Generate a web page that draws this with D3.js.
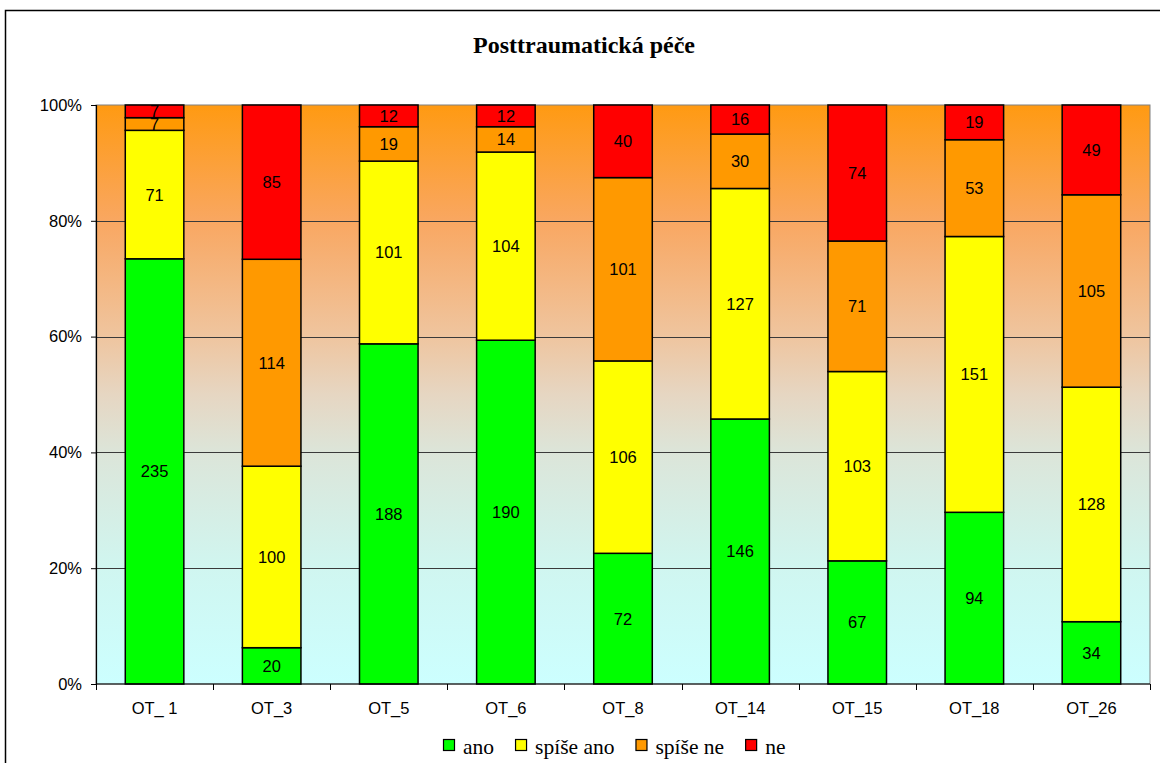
<!DOCTYPE html>
<html>
<head>
<meta charset="utf-8">
<script src="https://cdn.jsdelivr.net/npm/d3@7"></script>
<style>
  html, body { margin: 0; padding: 0; background: #fff; }
  svg { display: block; }
</style>
</head>
<body>
<svg id="chart" width="1160" height="763"></svg>
<script>
// Survey answers per department
const categories = ["OT_ 1", "OT_3", "OT_5", "OT_6", "OT_8", "OT_14", "OT_15", "OT_18", "OT_26"];
const seriesNames = ["ano", "spíše ano", "spíše ne", "ne"];
const ano      = [235, 20, 188, 190, 72, 146, 67, 94, 34];
const spiseAno = [71, 100, 101, 104, 106, 127, 103, 151, 128];
const spiseNe  = [7, 114, 19, 14, 101, 30, 71, 53, 105];
const ne       = [7, 85, 12, 12, 40, 16, 74, 19, 49];
const seriesColors = ["#00FF00", "#FFFF00", "#FF9900", "#FF0000"];
const yTicks = [0, 0.2, 0.4, 0.6, 0.8, 1];
const title = "Posttraumatická péče";

const serif = "'Liberation Serif', 'Times New Roman', serif";
const sans = "'Liberation Sans', Arial, sans-serif";

const svg = d3.select("#chart");
const plot = { left: 96, right: 1150, top: 105, bottom: 684 };

// Outer chart frame
svg.append("rect")
  .attr("x", 5.5).attr("y", 10.5)
  .attr("width", 1200).attr("height", 800)
  .attr("fill", "#fff").attr("stroke", "#000").attr("stroke-width", 1.5);

// Title
svg.append("text")
  .attr("x", 584).attr("y", 53)
  .attr("text-anchor", "middle")
  .attr("font-family", serif)
  .attr("font-weight", "bold")
  .attr("font-size", 24)
  .text(title);

// Plot background gradient (orange at top fading into pale cyan)
const defs = svg.append("defs");
const grad = defs.append("linearGradient")
  .attr("id", "bg").attr("x1", 0).attr("y1", 0).attr("x2", 0).attr("y2", 1);
[
  [0, "#FF9A12"], [0.2, "#F9A761"], [0.4, "#EFC59F"],
  [0.5, "#E6D6C2"], [0.6, "#DCE5D9"], [0.8, "#D0F6F0"], [1, "#CCFFFF"]
].forEach(([o, c]) => grad.append("stop").attr("offset", o).attr("stop-color", c));

svg.append("rect")
  .attr("x", plot.left).attr("y", plot.top)
  .attr("width", plot.right - plot.left).attr("height", plot.bottom - plot.top)
  .attr("fill", "url(#bg)").attr("stroke", "#808080").attr("stroke-width", 1);

const x = d3.scaleBand()
  .domain(categories)
  .range([plot.left, plot.right])
  .paddingInner(0.5)
  .paddingOuter(0.25);

const y = d3.scaleLinear().domain([0, 1]).range([plot.bottom, plot.top]);

// Gridlines
svg.append("g")
  .selectAll("line")
  .data(yTicks.filter(t => t > 0 && t < 1))
  .join("line")
  .attr("x1", plot.left).attr("x2", plot.right)
  .attr("y1", d => Math.round(y(d)) + 0.5).attr("y2", d => Math.round(y(d)) + 0.5)
  .attr("stroke", "#3a3a3a").attr("stroke-width", 1);

// Stacked, normalised bars
const rows = categories.map((c, i) => ({
  cat: c,
  "ano": ano[i], "spíše ano": spiseAno[i], "spíše ne": spiseNe[i], "ne": ne[i]
}));
const stack = d3.stack().keys(seriesNames).offset(d3.stackOffsetExpand);
const layers = stack(rows);

const layerG = svg.append("g")
  .selectAll("g")
  .data(layers)
  .join("g")
  .attr("fill", (d, i) => seriesColors[i]);

layerG.selectAll("rect")
  .data(d => d)
  .join("rect")
  .attr("x", d => x(d.data.cat))
  .attr("width", x.bandwidth())
  .attr("y", d => y(d[1]))
  .attr("height", d => y(d[0]) - y(d[1]))
  .attr("stroke", "#000").attr("stroke-width", 1.5);

// Value labels
const labelG = svg.append("g")
  .attr("font-family", sans)
  .attr("font-size", 16.5)
  .attr("text-anchor", "middle");
layers.forEach(layer => {
  labelG.selectAll(null)
    .data(layer)
    .join("text")
    .attr("x", d => x(d.data.cat) + x.bandwidth() / 2)
    .attr("y", d => (y(d[0]) + y(d[1])) / 2)
    .attr("dy", "0.36em")
    .text(d => d.data[layer.key]);
});

// Y axis
const yAxis = d3.axisLeft(y)
  .tickValues(yTicks)
  .tickFormat(d3.format(".0%"))
  .tickSize(5)
  .tickPadding(9);
const yg = svg.append("g")
  .attr("transform", `translate(${plot.left},0)`)
  .call(yAxis);
yg.select(".domain").attr("stroke", "#000").attr("stroke-width", 1.2);
yg.selectAll(".tick line").attr("stroke", "#000");
yg.selectAll(".tick text")
  .attr("font-family", sans)
  .attr("font-size", 16.5).attr("fill", "#000");

// X axis: baseline, boundary ticks, category labels
const xBound = d3.scaleLinear().domain([0, categories.length]).range([plot.left, plot.right]);
const xg = svg.append("g");
xg.append("line")
  .attr("x1", plot.left).attr("x2", plot.right)
  .attr("y1", plot.bottom).attr("y2", plot.bottom)
  .attr("stroke", "#000").attr("stroke-width", 1.2);
xg.selectAll("line.tk")
  .data(d3.range(categories.length + 1))
  .join("line")
  .attr("class", "tk")
  .attr("x1", d => Math.round(xBound(d)) + 0.5).attr("x2", d => Math.round(xBound(d)) + 0.5)
  .attr("y1", plot.bottom).attr("y2", plot.bottom + 6)
  .attr("stroke", "#000");
xg.selectAll("text")
  .data(categories)
  .join("text")
  .attr("x", d => x(d) + x.bandwidth() / 2)
  .attr("y", 714)
  .attr("text-anchor", "middle")
  .attr("font-family", sans)
  .attr("font-size", 16.5)
  .text(d => d);

// Legend
const legend = svg.append("g");
let lx = 443;
seriesNames.forEach((name, i) => {
  legend.append("rect")
    .attr("x", lx + 0.5).attr("y", 739.5)
    .attr("width", 11).attr("height", 11)
    .attr("fill", seriesColors[i]).attr("stroke", "#000").attr("stroke-width", 1.2);
  const t = legend.append("text")
    .attr("x", lx + 20).attr("y", 754)
    .attr("font-family", serif)
    .attr("font-size", 21.5)
    .text(name);
  lx += 20 + t.node().getComputedTextLength() + 21;
});
</script>
</body>
</html>
